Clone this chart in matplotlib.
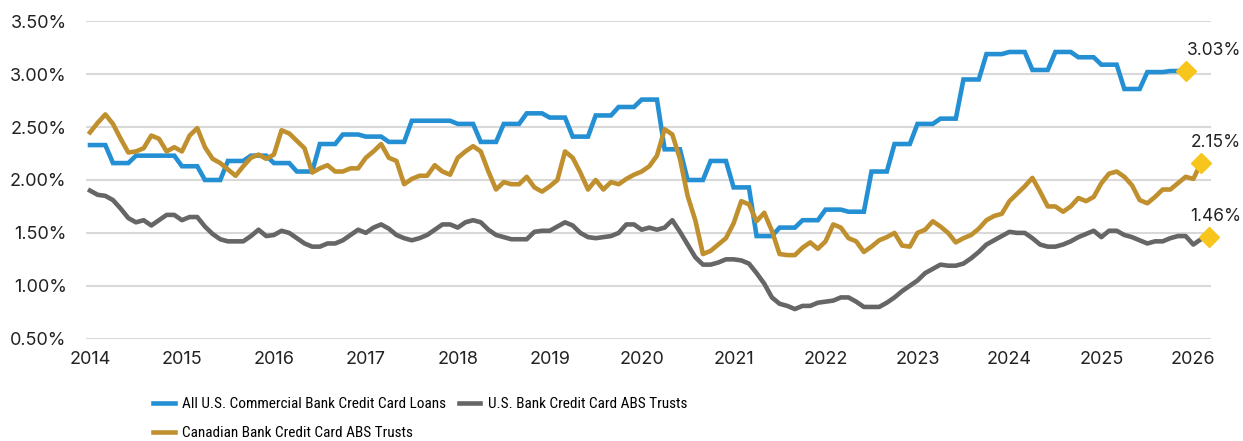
import numpy as np
import matplotlib
matplotlib.use('Agg')
import matplotlib.pyplot as plt

# monthly index: 0 = Jan 2014
years = list(range(2014, 2027))

# All U.S. commercial bank credit card loans (quarterly, Q1 2014 - Q4 2025)
us_bank_q = [2.33, 2.16, 2.23, 2.23, 2.13, 2.00, 2.18, 2.23, 2.16, 2.08, 2.34, 2.43,
             2.41, 2.36, 2.56, 2.56, 2.53, 2.36, 2.53, 2.63, 2.59, 2.41, 2.61, 2.69,
             2.76, 2.29, 2.00, 2.18, 1.93, 1.47, 1.55, 1.62, 1.72, 1.70, 2.08, 2.34,
             2.53, 2.58, 2.95, 3.19, 3.21, 3.04, 3.21, 3.16, 3.09, 2.86, 3.02, 3.03]

# U.S. bank credit card ABS trusts (monthly, Jan 2014 - Mar 2026)
us_abs = [1.90, 1.86, 1.85, 1.81, 1.73, 1.64, 1.60, 1.62, 1.57, 1.62, 1.67, 1.67,
          1.62, 1.65, 1.65, 1.56, 1.49, 1.44, 1.42, 1.42, 1.42, 1.47, 1.53, 1.47,
          1.48, 1.52, 1.50, 1.45, 1.40, 1.37, 1.37, 1.40, 1.40, 1.43, 1.48, 1.53,
          1.50, 1.55, 1.58, 1.54, 1.48, 1.45, 1.43, 1.45, 1.48, 1.53, 1.58, 1.58,
          1.55, 1.60, 1.62, 1.60, 1.53, 1.48, 1.46, 1.44, 1.44, 1.44, 1.51, 1.52,
          1.52, 1.56, 1.60, 1.57, 1.50, 1.46, 1.45, 1.46, 1.47, 1.50, 1.58, 1.58,
          1.53, 1.55, 1.53, 1.55, 1.62, 1.51, 1.39, 1.27, 1.20, 1.20, 1.22, 1.25,
          1.25, 1.24, 1.21, 1.12, 1.02, 0.89, 0.83, 0.81, 0.78, 0.81, 0.81, 0.84,
          0.85, 0.86, 0.89, 0.89, 0.85, 0.80, 0.80, 0.80, 0.84, 0.89, 0.95, 1.00,
          1.05, 1.12, 1.16, 1.20, 1.19, 1.19, 1.21, 1.26, 1.32, 1.39, 1.43, 1.47,
          1.51, 1.50, 1.50, 1.45, 1.39, 1.37, 1.37, 1.39, 1.42, 1.46, 1.49, 1.52,
          1.46, 1.52, 1.52, 1.48, 1.46, 1.43, 1.40, 1.42, 1.42, 1.45, 1.47, 1.47,
          1.39, 1.44, 1.46]

# Canadian bank credit card ABS trusts (monthly, Jan 2014 - Feb 2026)
cad_abs = [2.45, 2.54, 2.62, 2.53, 2.39, 2.26, 2.27, 2.30, 2.42, 2.39, 2.27, 2.31,
           2.27, 2.42, 2.49, 2.31, 2.20, 2.16, 2.10, 2.04, 2.13, 2.21, 2.24, 2.20,
           2.24, 2.47, 2.44, 2.37, 2.30, 2.07, 2.11, 2.14, 2.08, 2.08, 2.11, 2.11,
           2.21, 2.27, 2.34, 2.21, 2.18, 1.96, 2.01, 2.04, 2.04, 2.14, 2.08, 2.05,
           2.21, 2.27, 2.32, 2.27, 2.08, 1.91, 1.98, 1.96, 1.96, 2.03, 1.93, 1.89,
           1.94, 2.00, 2.27, 2.21, 2.07, 1.91, 2.00, 1.91, 1.98, 1.96, 2.01, 2.05,
           2.08, 2.13, 2.23, 2.48, 2.43, 2.20, 1.85, 1.62, 1.30, 1.33, 1.39, 1.45,
           1.59, 1.80, 1.77, 1.61, 1.69, 1.52, 1.30, 1.29, 1.29, 1.36, 1.41, 1.35,
           1.42, 1.58, 1.55, 1.45, 1.42, 1.32, 1.37, 1.43, 1.46, 1.50, 1.38, 1.37,
           1.50, 1.53, 1.61, 1.56, 1.50, 1.41, 1.45, 1.48, 1.54, 1.62, 1.66, 1.68,
           1.80, 1.87, 1.94, 2.02, 1.89, 1.75, 1.75, 1.70, 1.75, 1.83, 1.80, 1.84,
           1.97, 2.06, 2.08, 2.03, 1.95, 1.81, 1.78, 1.84, 1.91, 1.91, 1.97, 2.03,
           2.01, 2.16]

end_labels = ['3.03%', '2.15%', '1.46%']
names = ['All U.S. Commercial Bank Credit Card Loans',
         'U.S. Bank Credit Card ABS Trusts',
         'Canadian Bank Credit Card ABS Trusts']

blue = '#2490d3'
grey = '#666666'
gold = '#c08f2e'
marker_col = '#f8c51c'
tick_font = ['Inter', 'DejaVu Sans']

us_bank = np.repeat(us_bank_q, 3)
x_bank = np.arange(len(us_bank))
x_us = np.arange(len(us_abs))
x_cad = np.arange(len(cad_abs))

fig = plt.figure(figsize=(12.43, 4.41), dpi=100)
ax = fig.add_axes([0.0692, 0.232, 0.905, 0.7197])

ax.set_yticks(np.arange(0.5, 3.51, 0.5))
ax.yaxis.grid(True, color='#d9d9d9', lw=1.5)
ax.set_axisbelow(True)

l1, = ax.plot(x_bank, us_bank, color=blue, lw=3.3, solid_joinstyle='miter')
l2, = ax.plot(x_us, us_abs, color=grey, lw=3.3)
l3, = ax.plot(x_cad, cad_abs, color=gold, lw=3.3)

ends = [(x_bank[-1], us_bank[-1]), (x_cad[-1], cad_abs[-1]), (x_us[-1], us_abs[-1])]
for (xe, ye), lab in zip(ends, end_labels):
    ax.plot(xe, ye, marker='D', ms=10.5, color=marker_col, zorder=5, clip_on=False)
    # labels sit above the diamond, right-aligned near the figure edge
    ax.annotate(lab, xy=(0.9985, ye), xycoords=(fig.transFigure, 'data'),
                xytext=(0, 15), textcoords='offset points',
                ha='right', va='center', fontsize=12.5, family=tick_font,
                color='#222222', annotation_clip=False)

ax.set_xlim(-0.52, 146.3)
ax.set_ylim(0.5, 3.5)
ax.set_xticks([12 * i for i in range(len(years))])
ax.set_xticklabels([str(y) for y in years])
ax.set_yticklabels(['%.2f%%' % v for v in np.arange(0.5, 3.51, 0.5)])
ax.tick_params(length=0, labelsize=13, colors='#222222')
ax.tick_params(axis='y', pad=14)
ax.tick_params(axis='x', pad=9)
for lbl in ax.get_xticklabels() + ax.get_yticklabels():
    lbl.set_family(tick_font)
for s in ax.spines.values():
    s.set_visible(False)

leg = fig.legend([l1, l3, l2], [names[0], names[2], names[1]], ncol=2,
                 loc='upper center', bbox_to_anchor=(0.338, 0.0995), frameon=False,
                 handlelength=1.4, handletextpad=0.5, columnspacing=0.8,
                 labelspacing=1.0,
                 prop={'family': ['Roboto Condensed', 'Roboto', 'DejaVu Sans'], 'size': 11},
                 borderaxespad=0, borderpad=0)

fig.savefig('out.png', dpi=100)
